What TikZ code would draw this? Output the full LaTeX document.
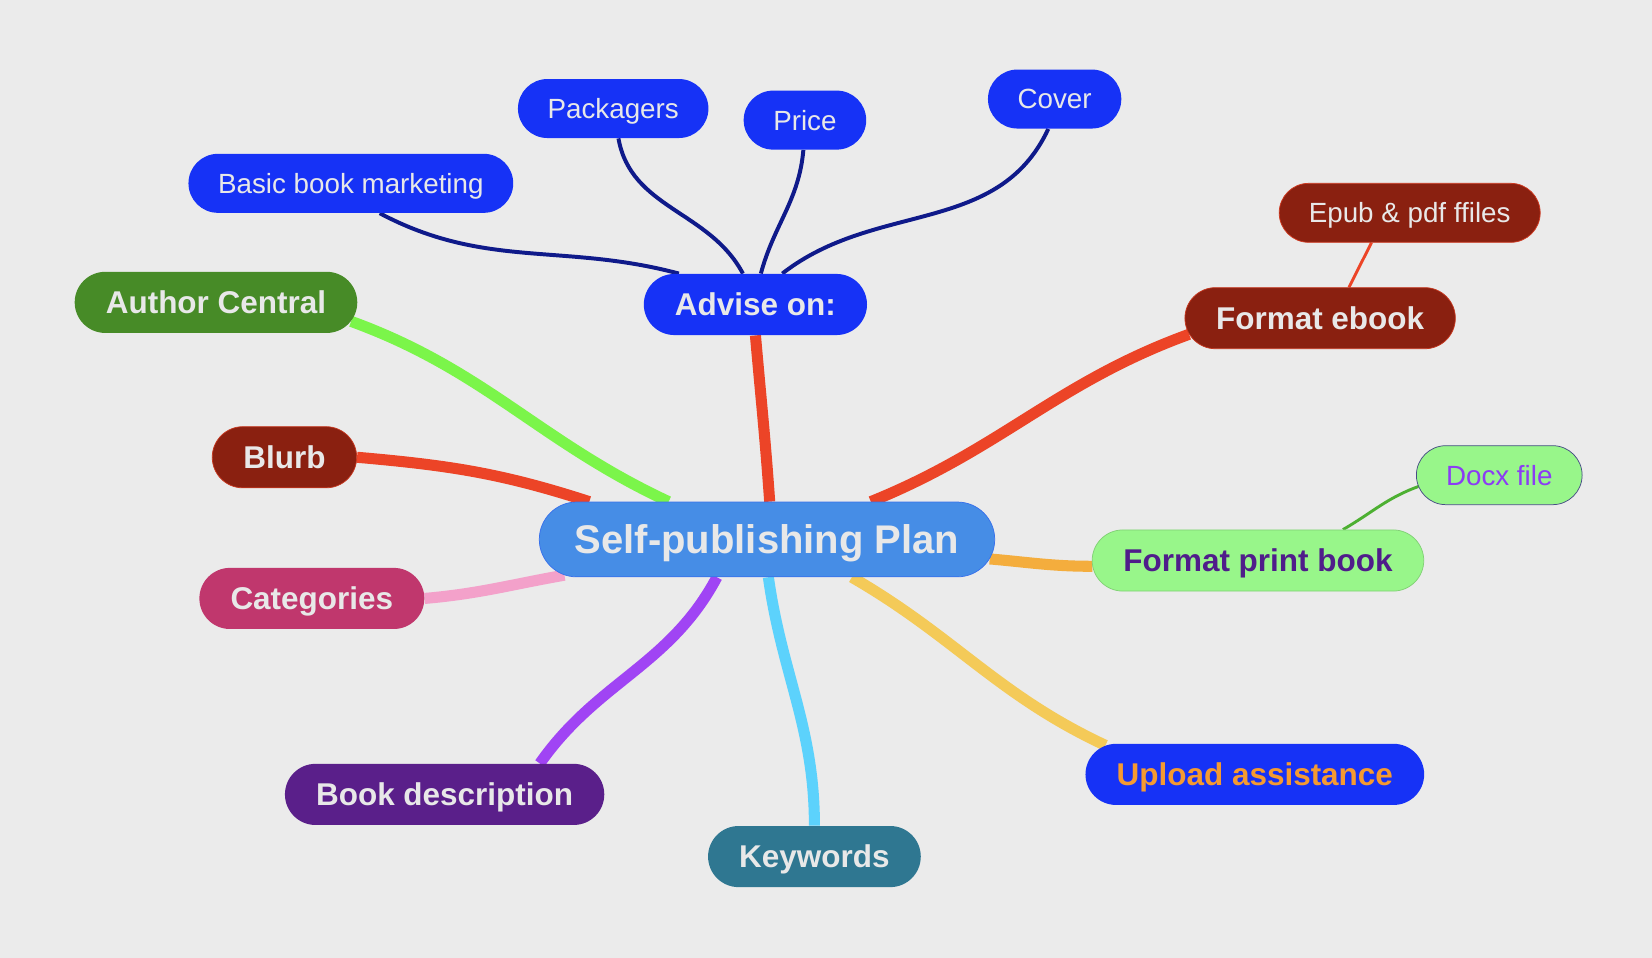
\documentclass[tikz,border=0pt]{standalone}
\usepackage{fontspec}
\setmainfont{Liberation Sans}
\usetikzlibrary{shapes.misc,backgrounds}

\definecolor{bggray}{HTML}{EBEBEB}
\definecolor{txtgray}{HTML}{E8E8E8}
\definecolor{planblue}{HTML}{468DE6}
\definecolor{topicblue}{HTML}{1632F6}
\definecolor{navyline}{HTML}{0F1A8A}
\definecolor{authgreen}{HTML}{478B27}
\definecolor{limeline}{HTML}{7BF54A}
\definecolor{darkred}{HTML}{8A2010}
\definecolor{redline}{HTML}{EC4427}
\definecolor{catpink}{HTML}{C0376D}
\definecolor{pinkline}{HTML}{F3A1CA}
\definecolor{descpurple}{HTML}{5A1F8A}
\definecolor{violetline}{HTML}{A044F4}
\definecolor{kwteal}{HTML}{2F7791}
\definecolor{skyline}{HTML}{5CD2FC}
\definecolor{upyellow}{HTML}{F4CA58}
\definecolor{uptext}{HTML}{F59A31}
\definecolor{printgreen}{HTML}{98F68A}
\definecolor{printtext}{HTML}{4F1D8A}
\definecolor{orangeline}{HTML}{F4AD3D}
\definecolor{docxtext}{HTML}{8B3CF4}
\definecolor{docxline}{HTML}{4DB032}

\tikzset{
  root/.style={rounded rectangle, fill=planblue, draw=planblue!80!blue, text=txtgray,
    font=\bfseries\fontsize{21.6pt}{26pt}\selectfont, minimum height=1.42cm,
    inner xsep=0.62cm, text height=15.5pt, text depth=0pt},
  topic/.style={rounded rectangle, text=txtgray, font=\bfseries\fontsize{17pt}{20pt}\selectfont,
    minimum height=1.16cm, inner xsep=0.55cm, text height=12.2pt, text depth=0pt},
  subtopic/.style={rounded rectangle, text=txtgray, font=\fontsize{15pt}{18pt}\selectfont,
    minimum height=1.12cm, inner xsep=0.53cm, text height=10.7pt, text depth=0pt},
  branch/.style={line width=0.21cm},
  twig/.style={line width=0.075cm, draw=navyline},
}

\begin{document}
\begin{tikzpicture}

\node[root] (plan) at (14.56,-10.24) {Self-publishing Plan};

\node[topic, fill=topicblue] (advise) at (14.34,-5.78) {Advise on:};
\node[topic, fill=authgreen] (author) at (4.10,-5.74) {Author Central};
\node[topic, fill=darkred, draw=redline!60!darkred] (blurb) at (5.40,-8.68) {Blurb};
\node[topic, fill=catpink] (cat) at (5.92,-11.36) {Categories};
\node[topic, fill=descpurple] (desc) at (8.44,-15.08) {Book description};
\node[topic, fill=kwteal] (keywords) at (15.46,-16.26) {Keywords};
\node[topic, fill=topicblue, text=uptext] (upload) at (23.82,-14.70) {Upload assistance};
\node[topic, fill=printgreen, draw=printgreen!85!black, text=printtext] (print) at (23.88,-10.64) {Format print book};
\node[topic, fill=darkred, draw=redline!60!darkred] (ebook) at (25.06,-6.04) {Format ebook};

\node[subtopic, fill=topicblue] (basic) at (6.66,-3.48) {Basic book marketing};
\node[subtopic, fill=topicblue] (packagers) at (11.64,-2.06) {Packagers};
\node[subtopic, fill=topicblue] (price) at (15.28,-2.28) {Price};
\node[subtopic, fill=topicblue] (cover) at (20.02,-1.88) {Cover};
\node[subtopic, fill=darkred, draw=redline!70!darkred] (epub) at (26.76,-4.04) {Epub \& pdf ffiles};
\node[subtopic, fill=printgreen, draw=navyline!50!gray, text=docxtext] (docx) at (28.46,-9.02) {Docx file};

\begin{pgfonlayer}{background}
\fill[bggray] (0,0) rectangle (31.36,-18.18);
% main branches
\draw[branch, redline] (plan.86) to[out=94,in=-85] (advise.270);
\draw[branch, limeline] (plan.159) to[out=155,in=-20] (author.-8);
\draw[branch, redline] (plan.168) to[out=162,in=-5] (blurb.east);
\draw[branch, pinkline] (plan.190) to[out=190,in=5] (cat.east);
\draw[branch, violetline] (plan.217) to[out=-118,in=55] (desc.18);
\draw[branch, skyline] (plan.-88) to[out=-82,in=90] (keywords.north);
\draw[branch, upyellow] (plan.-24) to[out=-30,in=155] (upload.169);
\draw[branch, orangeline] (plan.-5) to[out=-5,in=180] (print.182);
\draw[branch, redline] (plan.20) to[out=22,in=200] (ebook.187);
% sub branches
\draw[twig] (advise.158) to[out=165,in=-28] (basic.-46);
\draw[twig] (advise.112) to[out=118,in=-80] (packagers.-80);
\draw[twig] (advise.80) to[out=75,in=-95] (price.-93);
\draw[twig] (advise.49) to[out=38,in=-115] (cover.-102);
\draw[line width=0.055cm, redline] (ebook.47) -- (epub.218);
\draw[line width=0.055cm, docxline] (print.20) to[out=30,in=200] (docx.188);
\end{pgfonlayer}

\end{tikzpicture}
\end{document}
